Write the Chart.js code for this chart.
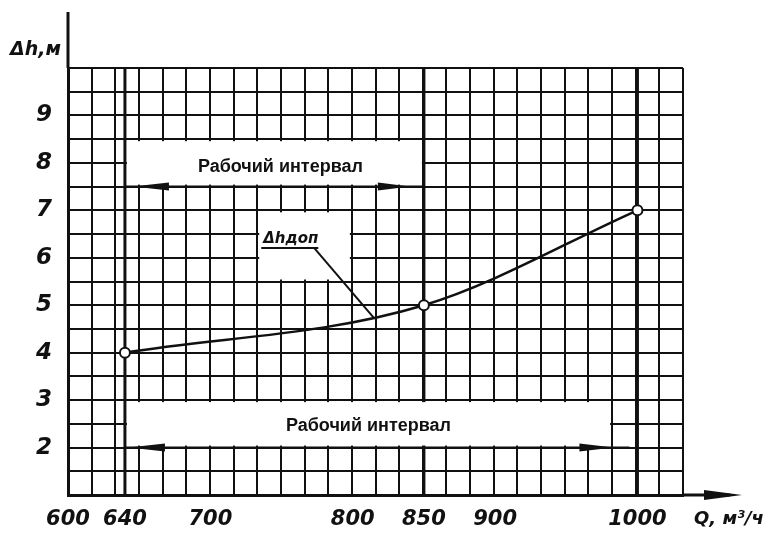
<!DOCTYPE html>
<html>
<head>
<meta charset="utf-8">
<script src="https://cdn.jsdelivr.net/npm/chart.js@4.4.0/dist/chart.umd.min.js"></script>
<style>
  html, body { margin: 0; padding: 0; background: #fff; }
  canvas { display: block; }
</style>
</head>
<body>
<canvas id="chart" width="773" height="542"></canvas>
<script>
// Q, м3/ч и допустимый запас Δh, м
const flowQ = [640, 850, 1000];
const deltaH = [4, 5, 7];

const xTickValues = [600, 640, 700, 800, 850, 900, 1000];
const yTickValues = [2, 3, 4, 5, 6, 7, 8, 9];

// рабочие интервалы по Q
const upperInterval = [640, 850];
const lowerInterval = [640, 1000];
const intervalText = 'Рабочий интервал';
const curveLabel = 'Δhдоп';

const ink = '#111';
const handFont = (size) => ({ family: '"DejaVu Sans", sans-serif', size: size, style: 'italic', weight: 'bold' });

function line(ctx, x0, y0, x1, y1) {
  ctx.beginPath();
  ctx.moveTo(x0, y0);
  ctx.lineTo(x1, y1);
  ctx.stroke();
}

function arrowHead(ctx, tipX, tipY, dir, len, half) {
  ctx.beginPath();
  ctx.moveTo(tipX, tipY);
  ctx.lineTo(tipX - dir * len, tipY - half);
  ctx.lineTo(tipX - dir * len, tipY + half);
  ctx.closePath();
  ctx.fill();
}

const sketchPlugin = {
  id: 'sketch',
  beforeDatasetsDraw(chart) {
    const { ctx, chartArea: a, scales } = chart;
    const x = scales.x, y = scales.y, g = scales.xg;
    ctx.save();
    // жирные вертикали через точки
    ctx.strokeStyle = ink;
    ctx.lineWidth = 3;
    flowQ.forEach((q) => {
      const px = x.getPixelForValue(q);
      line(ctx, px, a.top, px, a.bottom);
    });

    // белые поля под надписями
    ctx.fillStyle = '#fff';
    const box = (l, r, t, b) => ctx.fillRect(l + 2, t + 2, r - l - 4, b - t - 4);
    box(x.getPixelForValue(upperInterval[0]), x.getPixelForValue(upperInterval[1]),
        y.getPixelForValue(8.5), y.getPixelForValue(7.5));
    box(x.getPixelForValue(lowerInterval[0]), g.getPixelForValue(23),
        y.getPixelForValue(3), y.getPixelForValue(2));
    box(g.getPixelForValue(8), g.getPixelForValue(12),
        y.getPixelForValue(7), y.getPixelForValue(5.5));
    ctx.restore();
  },
  afterDatasetsDraw(chart) {
    const { ctx, chartArea: a, scales } = chart;
    const x = scales.x, y = scales.y, g = scales.xg;
    ctx.save();
    ctx.strokeStyle = ink;
    ctx.fillStyle = ink;

    // продолжение осей
    ctx.lineWidth = 3;
    line(ctx, a.left, a.top, a.left, 12);
    line(ctx, a.right, a.bottom, 730, a.bottom);
    arrowHead(ctx, 742, a.bottom, 1, 38, 5);

    // стрелки рабочих интервалов
    ctx.lineWidth = 2;
    const yUp = y.getPixelForValue(7.5);
    const u0 = x.getPixelForValue(upperInterval[0]), u1 = x.getPixelForValue(upperInterval[1]);
    line(ctx, u0, yUp, u1, yUp);
    arrowHead(ctx, u0 + 8, yUp, -1, 36, 4);
    arrowHead(ctx, u1 - 14, yUp, 1, 32, 4);

    const yLo = y.getPixelForValue(2);
    const l0 = x.getPixelForValue(lowerInterval[0]), l1 = x.getPixelForValue(lowerInterval[1]);
    line(ctx, l0, yLo, l1 - 8, yLo);
    arrowHead(ctx, l0 + 4, yLo, -1, 36, 4);
    arrowHead(ctx, l1 - 24, yLo, 1, 34, 4);

    ctx.font = 'bold 18px "Liberation Sans", Arial, sans-serif';
    ctx.textAlign = 'center';
    ctx.textBaseline = 'middle';
    ctx.fillText(intervalText, (u0 + u1) / 2 + 6, y.getPixelForValue(8) + 4);
    ctx.fillText(intervalText, (l0 + g.getPixelForValue(23)) / 2, y.getPixelForValue(2.5) + 2);

    // подпись кривой с выноской
    ctx.font = 'italic bold 15px "DejaVu Sans", sans-serif';
    ctx.textAlign = 'left';
    ctx.textBaseline = 'alphabetic';
    const lx = g.getPixelForValue(8) + 6;
    const ly = y.getPixelForValue(6.5) + 9;
    ctx.fillText(curveLabel, lx, ly);
    const ux = lx + ctx.measureText(curveLabel).width;
    ctx.lineWidth = 2;
    line(ctx, lx - 2, ly + 5, ux, ly + 5);
    const meta = chart.getDatasetMeta(0);
    const target = meta.dataset.interpolate({ x: x.getPixelForValue(815) }, 'x');
    line(ctx, ux - 4, ly + 5, target.x, target.y);

    // обозначения осей
    ctx.font = 'italic bold 19px "DejaVu Sans", sans-serif';
    ctx.fillText('Δh,м', 10, 55);
    ctx.font = 'italic bold 18px "DejaVu Sans", sans-serif';
    ctx.fillText('Q, м³/ч', 694, 524);
    ctx.restore();
  }
};

new Chart(document.getElementById('chart'), {
  type: 'line',
  data: {
    datasets: [{
      data: flowQ.map((q, i) => ({ x: q, y: deltaH[i] })),
      borderColor: ink,
      borderWidth: 2.5,
      cubicInterpolationMode: 'monotone',
      pointRadius: 5,
      pointBackgroundColor: '#fff',
      pointBorderColor: ink,
      pointBorderWidth: 2,
      xAxisID: 'x',
      yAxisID: 'y',
    }],
  },
  options: {
    responsive: false,
    animation: false,
    layout: { padding: { left: 0, top: 68, right: 90, bottom: 0 } },
    plugins: {
      legend: { display: false },
      tooltip: { enabled: false },
    },
    scales: {
      xg: {
        type: 'linear',
        position: 'bottom',
        min: 0,
        max: 26,
        ticks: { display: false, stepSize: 1 },
        grid: { color: ink, lineWidth: 2, drawTicks: false },
        border: { display: false },
        afterFit: (s) => { s.height = 0; },
      },
      x: {
        type: 'linear',
        position: 'bottom',
        min: 600,
        max: 1032,
        afterBuildTicks: (s) => { s.ticks = xTickValues.map((v) => ({ value: v })); },
        ticks: {
          autoSkip: false,
          maxRotation: 0,
          color: ink,
          font: handFont(21),
          padding: 4,
          callback: (v) => String(v),
        },
        grid: { display: false },
        border: { display: true, color: ink, width: 3 },
        afterFit: (s) => { s.height = 47; },
      },
      y: {
        type: 'linear',
        min: 1,
        max: 10,
        ticks: {
          stepSize: 0.5,
          autoSkip: false,
          color: ink,
          font: handFont(23),
          padding: 16,
          callback: (v) => (yTickValues.includes(v) ? v : ''),
        },
        grid: { color: ink, lineWidth: 2, drawTicks: false },
        border: { display: true, color: ink, width: 3 },
        afterFit: (s) => { s.width = 68; },
      },
    },
  },
  plugins: [sketchPlugin],
});
</script>
</body>
</html>
